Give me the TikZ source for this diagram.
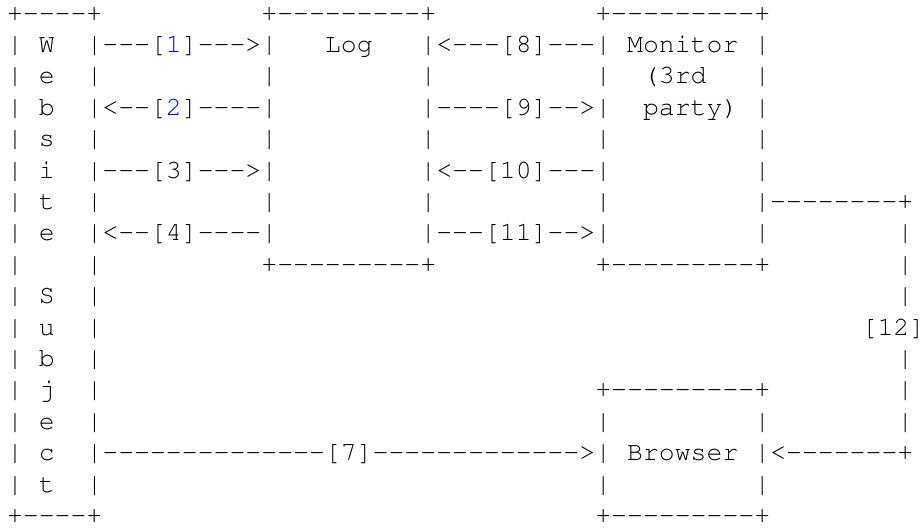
\documentclass[tikz,border=0pt]{standalone}
\usepackage[T1]{fontenc}
\usepackage{xcolor}
\usepackage{tikz}

\newcommand{\asciifont}{\fontencoding{T1}\fontfamily{pcr}\fontsize{13.25pt}{15.7pt}\selectfont}
\newcommand{\hy}[1]{\foreach \k in {1,...,#1}{-}}
\newcommand{\lnk}[1]{\textcolor{blue}{#1}}

\tikzset{
  ch/.style={inner sep=0pt, outer sep=0pt, anchor=base west, font=\asciifont},
}

\begin{document}
\begin{tikzpicture}[x=7.95pt, y=15.7pt]
  \useasboundingbox (0pt,0pt) rectangle (461.5pt,-265pt);

  \begin{scope}[shift={(3.5pt,-10.5pt)}, every node/.style={ch}]
    % website subject
    \node (wstop) at (0,0) {+\hy{4}+};
    \node (wsbot) at (0,-16) {+\hy{4}+};
    \foreach \r in {1,...,15} {
      \node (wsl\r) at (0,-\r) {|};
      \node (wsr\r) at (5,-\r) {|};
    }
    \foreach [count=\r] \ltr in {W,e,b,s,i,t,e,{},S,u,b,j,e,c,t}
      \node (ws\r) at (2,-\r) {\ltr};

    % log
    \node (logtop) at (16,0) {+\hy{9}+};
    \node (logbot) at (16,-8) {+\hy{9}+};
    \foreach \r in {1,...,7} {
      \node (logl\r) at (16,-\r) {|};
      \node (logr\r) at (26,-\r) {|};
    }
    \node (log) at (20,-1) {Log};

    % monitor
    \node (montop) at (37,0) {+\hy{9}+};
    \node (monbot) at (37,-8) {+\hy{9}+};
    \foreach \r in {1,...,7} {
      \node (monl\r) at (37,-\r) {|};
      \node (monr\r) at (47,-\r) {|};
    }
    \node (mon) at (39,-1) {Monitor};
    \node (mon2) at (40,-2) {(3rd};
    \node (mon3) at (40,-3) {party)};

    % browser
    \node (brtop) at (37,-12) {+\hy{9}+};
    \node (brbot) at (37,-16) {+\hy{9}+};
    \foreach \r in {13,14,15} {
      \node (brl\r) at (37,-\r) {|};
      \node (brr\r) at (47,-\r) {|};
    }
    \node (br) at (39,-14) {Browser};

    % messages
    \node (m1) at (6,-1) {\hy{3}[\lnk{1}]\hy{3}>};
    \node (m2) at (6,-3) {<\hy{2}[\lnk{2}]\hy{4}};
    \node (m3) at (6,-5) {\hy{3}[3]\hy{3}>};
    \node (m4) at (6,-7) {<\hy{2}[4]\hy{4}};
    \node (m8) at (27,-1) {<\hy{3}[8]\hy{3}};
    \node (m9) at (27,-3) {\hy{4}[9]\hy{2}>};
    \node (m10) at (27,-5) {<\hy{2}[10]\hy{3}};
    \node (m11) at (27,-7) {\hy{3}[11]\hy{2}>};
    \node (m7) at (6,-14) {\hy{14}[7]\hy{13}>};

    % monitor to browser
    \node (m12a) at (48,-6) {\hy{8}+};
    \node (m12b) at (48,-14) {<\hy{7}+};
    \foreach \r in {7,8,9,11,12,13}
      \node (m12v\r) at (56,-\r) {|};
    \node[xshift=-2pt] (m12) at (54,-10) {[12]};
  \end{scope}
\end{tikzpicture}
\end{document}
